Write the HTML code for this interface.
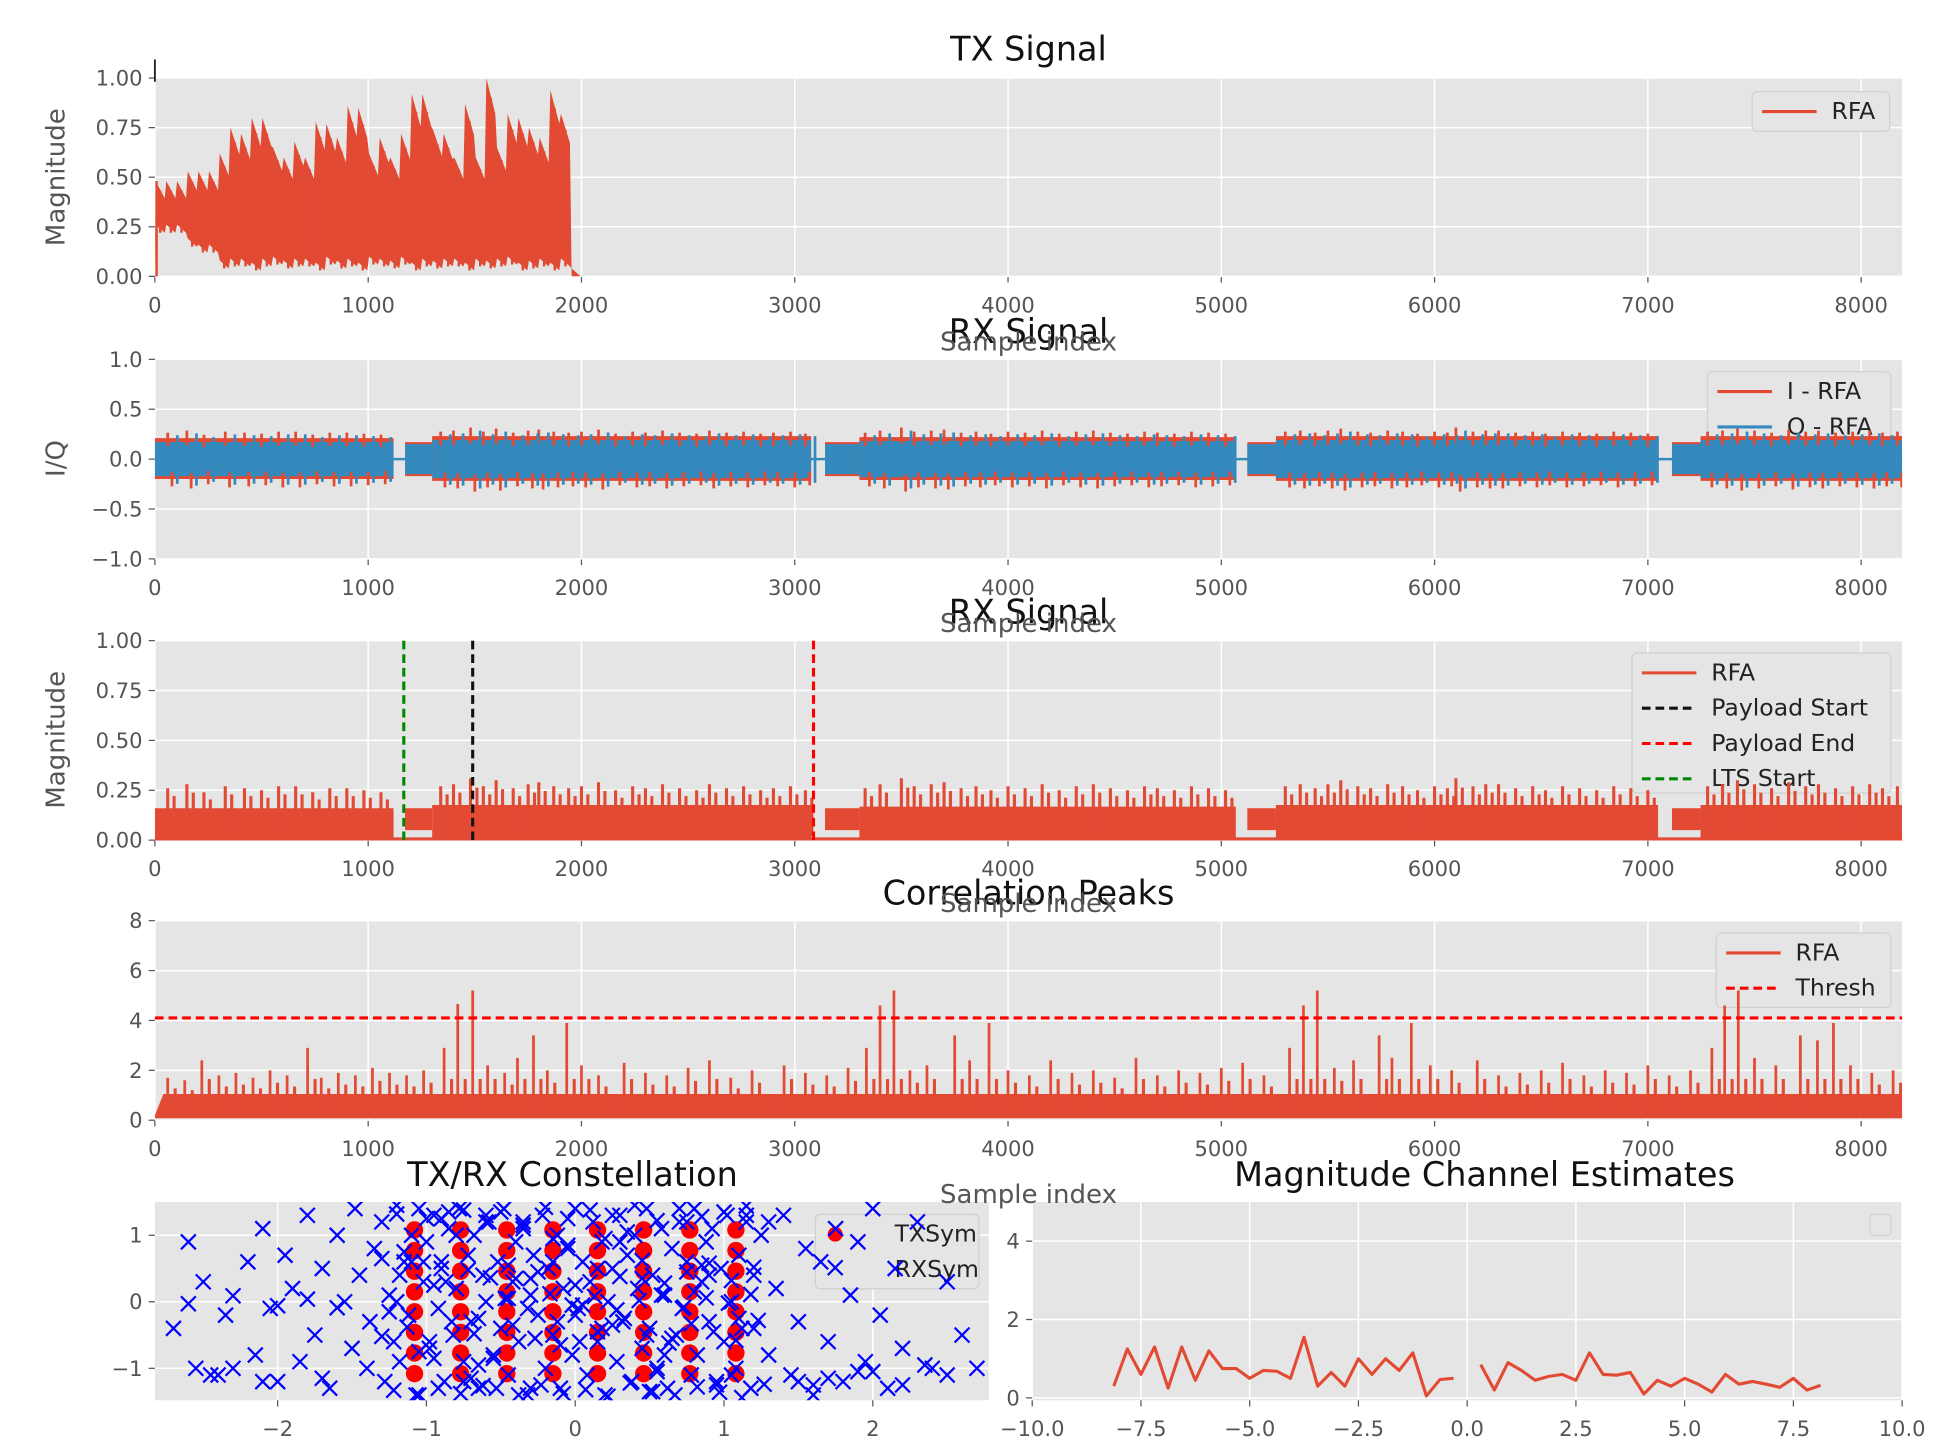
<!DOCTYPE html>
<html><head><meta charset="utf-8"><style>
html,body{margin:0;padding:0;background:#fff}
svg{display:block;font-family:"DejaVu Sans","Liberation Sans",sans-serif}
</style></head><body>
<svg id="fig" width="1943" height="1444" viewBox="0 0 1568 1165.3" preserveAspectRatio="none" xmlns="http://www.w3.org/2000/svg"></svg>
<script>
// ---------- data ----------
const txBinMax=[0.48,0.48,0.48,0.53,0.53,0.53,0.62,0.75,0.72,0.80,0.80,0.65,0.60,0.68,0.60,0.78,0.77,0.70,0.86,0.85,0.62,0.70,0.60,0.72,0.92,0.92,0.74,0.72,0.60,0.87,0.60,1.00,0.65,0.82,0.80,0.75,0.70,0.94,0.82,0.0];
const txBinMin=[0.22,0.22,0.22,0.15,0.12,0.12,0.04,0.05,0.05,0.03,0.05,0.06,0.04,0.05,0.05,0.03,0.06,0.04,0.05,0.03,0.06,0.05,0.04,0.06,0.03,0.05,0.04,0.05,0.05,0.03,0.05,0.04,0.05,0.06,0.03,0.04,0.05,0.03,0.05,0.0];
const burstStart=[0,1173,3142,5122,7113];
const burstPreEnd=[0,1300,3303,5256,7247];
const burstEnd=[1119,3077,5068,7048,8192];
const burstAmpI=[0.21,0.23,0.22,0.23,0.23];
const burstAmpQ=[0.17,0.19,0.18,0.19,0.19];
const preAmp=[0,0.15,0.15,0.15,0.15];
const magBurstMax=[0.2,0.22,0.21,0.22,0.22];
const magPreTop=[0,0.16,0.16,0.16,0.16];
const magPreBot=[0,0.05,0.05,0.05,0.05];
const magPeakIdx=[60,150,230,330,420,500,580,660,740,820,900,980,1060,1340,1400,1480,1540,1600,1680,1750,1800,1870,1940,2000,2080,2160,2240,2300,2380,2460,2540,2600,2680,2760,2840,2900,2980,3050,3330,3400,3500,3560,3640,3700,3780,3850,3920,4000,4080,4160,4240,4320,4400,4480,4560,4640,4700,4780,4860,4940,5020,5300,5370,5440,5500,5560,5640,5700,5780,5850,5920,6000,6060,6100,6180,6240,6300,6380,6460,6520,6600,6680,6760,6840,6920,7000,7280,7350,7420,7500,7580,7660,7740,7800,7880,7960,8040,8100,8170];
const magPeakVal=[0.26,0.28,0.24,0.27,0.26,0.25,0.27,0.27,0.24,0.26,0.26,0.25,0.24,0.27,0.28,0.31,0.27,0.30,0.26,0.28,0.29,0.27,0.26,0.27,0.29,0.25,0.27,0.26,0.28,0.26,0.25,0.28,0.26,0.27,0.25,0.26,0.27,0.25,0.26,0.28,0.31,0.27,0.28,0.29,0.26,0.27,0.25,0.27,0.26,0.28,0.25,0.27,0.28,0.26,0.25,0.27,0.26,0.25,0.27,0.26,0.25,0.27,0.28,0.26,0.28,0.30,0.27,0.26,0.28,0.27,0.25,0.27,0.26,0.31,0.27,0.28,0.28,0.26,0.27,0.25,0.27,0.26,0.25,0.27,0.26,0.25,0.27,0.28,0.30,0.28,0.26,0.29,0.27,0.28,0.26,0.27,0.28,0.26,0.27];
const markerLTS=1167, markerPayStart=1490, markerPayEnd=3088;
const corrBaseMax=1.05;
const corrPeakIdx=[60,140,220,300,380,460,540,620,716,780,860,940,1020,1100,1180,1260,1356,1420,1490,1560,1640,1700,1775,1840,1931,2000,2080,2200,2300,2400,2500,2600,2700,2800,2950,3050,3150,3250,3336,3400,3465,3540,3620,3750,3820,3911,4000,4100,4200,4300,4400,4500,4600,4700,4800,4900,5000,5100,5200,5320,5385,5450,5530,5620,5740,5800,5891,5980,6080,6200,6300,6400,6500,6600,6700,6800,6900,7000,7100,7200,7300,7360,7424,7500,7600,7715,7795,7870,7950,8050,8150];
const corrPeakVal=[1.7,1.6,2.4,1.8,1.9,1.7,2.0,1.8,2.9,1.7,1.9,1.8,2.1,1.9,1.8,2.0,2.9,4.66,5.2,2.2,1.9,2.5,3.4,2.0,3.9,2.2,1.8,2.3,1.9,1.8,2.1,2.4,1.7,2.0,2.2,1.9,1.8,2.1,2.9,4.6,5.2,2.0,2.2,3.4,2.4,3.9,2.0,1.8,2.4,1.9,2.0,1.7,2.5,1.8,2.0,1.9,2.1,2.3,1.8,2.9,4.6,5.2,2.1,2.4,3.4,2.5,3.9,2.2,2.0,2.4,1.8,1.9,2.0,2.3,1.8,2.0,1.9,2.2,1.8,2.0,2.9,4.6,5.2,2.5,2.2,3.4,3.2,3.9,2.2,1.9,2.0];
const corrThresh=4.1;
const qamLevels=[-1.08,-0.77,-0.46,-0.15,0.15,0.46,0.77,1.08];
const rxSymX=[-2.7,-2.6,-2.55,-2.5,-2.45,-2.35,-2.3,-2.2,-2.15,-2.1,-2.05,-2.0,-1.95,-1.9,-1.85,-1.8,-1.75,-1.7,-1.65,-1.6,-1.55,-1.5,-1.48,-1.45,-1.4,-1.38,-1.35,-1.3,-1.28,-1.25,-1.22,-1.2,-1.18,-1.15,-1.12,-1.1,-1.05,-1.02,-1.0,-0.98,-0.95,-0.92,-0.9,-0.88,-0.85,-0.82,-0.8,-0.78,-0.75,-0.72,-0.7,-0.68,-0.65,-0.62,-0.6,-0.58,-0.55,-0.52,-0.5,-0.48,-0.45,-0.42,-0.4,-0.38,-0.35,-0.32,-0.3,-0.28,-0.25,-0.22,-0.2,-0.18,-0.15,-0.12,-0.1,-0.08,-0.05,-0.02,0.0,0.02,0.05,0.08,0.1,0.12,0.15,0.18,0.2,0.22,0.25,0.28,0.3,0.32,0.35,0.38,0.4,0.42,0.45,0.48,0.5,0.52,0.55,0.58,0.6,0.62,0.65,0.68,0.7,0.72,0.75,0.78,0.8,0.82,0.85,0.88,0.9,0.92,0.95,0.98,1.0,1.02,1.05,1.08,1.1,1.12,1.15,1.18,1.2,1.25,1.3,1.35,1.4,1.45,1.5,1.55,1.6,1.65,1.7,1.75,1.8,1.85,1.9,1.95,2.0,2.05,2.1,2.15,2.2,2.3,2.4,2.5,2.6,2.7,-1.2,-0.9,-0.6,-0.3,0.0,0.3,0.6,0.9,1.2,-1.0,-0.7,-0.4,-0.1,0.2,0.5,0.8,1.1,-1.15,-0.85,-0.55,-0.25,0.05,0.35,0.65,0.95,-1.3,-0.95,-0.65,-0.35,-0.05,0.25,0.55,0.85,1.15,-1.05,-0.75,-0.45,-0.15,0.15,0.45,0.75,1.05,
-1.25,-1.1,-0.95,-0.8,-0.65,-0.5,-0.35,-0.2,-0.05,0.1,0.25,0.4,0.55,0.7,0.85,1.0,1.15,1.3,-1.2,-1.05,-0.9,-0.75,-0.6,-0.45,-0.3,-0.15,0.0,0.15,0.3,0.45,0.6,0.75,0.9,1.05,1.2,-1.18,-1.02,-0.87,-0.72,-0.57,-0.42,-0.27,-0.12,0.03,0.18,0.33,0.48,0.63,0.78,0.93,1.08,1.23,-1.3,-1.13,-0.98,-0.83,-0.68,-0.53,-0.38,-0.23,-0.08,0.07,0.22,0.37,0.52,0.67,0.82,0.97,1.12,1.27,-1.22,-1.07,-0.92,-0.77,-0.62,-0.47,-0.32,-0.17,-0.02,0.13,0.28,0.43,0.58,0.73,0.88,1.03,1.18,-1.6,-1.8,-2.0,-2.3,-2.6,1.5,1.7,1.9,2.2,2.5,-1.7,-2.1,-2.4,1.6,2.0,2.35];
const rxSymY=[-0.4,0.9,-1.0,0.3,-1.1,-0.2,-1.0,0.6,-0.8,1.1,-0.1,-1.2,0.7,0.2,-0.9,1.3,-0.5,0.5,-1.3,1.0,0.0,-0.7,1.4,0.4,-1.0,-0.3,0.8,1.2,-1.2,0.1,-0.6,1.45,-0.9,0.6,-0.2,1.0,-1.4,0.3,0.9,-0.7,1.3,-0.1,0.5,-1.2,1.1,-0.5,0.2,1.4,-0.9,0.7,-0.3,1.0,-1.3,0.4,0.0,1.2,-0.8,0.6,-0.4,1.4,-1.1,0.3,0.9,-0.6,1.1,-1.4,0.1,0.7,-0.2,1.3,-1.0,0.5,-0.5,1.0,-1.3,0.2,0.8,-0.8,1.4,-0.1,0.6,-1.1,0.3,1.2,-0.6,0.9,-1.4,0.0,0.5,-0.9,1.3,-0.3,0.7,-1.2,1.0,0.2,-0.7,1.4,-0.4,0.4,-1.0,1.1,0.1,-1.3,0.8,-0.5,1.2,-0.1,0.6,-1.1,1.4,-0.8,0.3,0.9,-0.3,1.1,-1.2,0.5,-0.6,1.3,0.0,-1.0,0.7,-0.4,1.2,-1.3,0.4,1.0,-0.8,0.2,1.3,-1.1,-0.3,0.8,-1.4,0.6,-0.6,1.1,-1.2,0.1,0.9,-0.9,1.4,-0.2,-1.3,0.5,-0.7,1.2,-1.0,0.3,-0.5,-1.0,0.0,0.6,1.2,-1.3,-0.2,0.9,-0.8,0.4,-0.4,1.25,-1.15,0.35,-0.65,0.95,-1.35,0.15,-0.25,0.75,1.35,-0.85,0.45,-0.05,1.05,-0.55,-1.25,0.65,0.25,-0.95,1.15,0.85,-0.35,-1.05,0.55,1.3,-0.75,-1.2,0.05,0.95,-0.45,0.35,1.2,-1.1,-0.15,0.6,-0.85,1.0,-0.25,
1.35,1.2,1.42,1.25,1.38,1.3,1.45,1.22,1.4,1.28,1.35,1.44,1.2,1.32,1.4,1.25,1.38,1.3,0.55,0.35,0.6,0.25,0.5,0.38,0.62,0.28,0.45,0.58,0.32,0.52,0.4,0.6,0.3,0.48,0.36,-0.35,-0.55,-0.3,-0.6,-0.4,-0.25,-0.5,-0.62,-0.33,-0.45,-0.58,-0.28,-0.52,-0.38,-0.6,-0.3,-0.48,-1.3,-1.4,-1.25,-1.38,-1.32,-1.42,-1.22,-1.35,-1.4,-1.28,-1.36,-1.44,-1.24,-1.33,-1.4,-1.3,-1.38,-1.26,0.05,-0.1,0.12,-0.05,0.08,-0.12,0.02,0.1,-0.08,0.06,-0.02,0.11,-0.09,0.04,-0.06,0.09,-0.03,-1.2,-1.15,-1.05,-1.25,-1.1,-1.15,-1.2,-1.1,-1.25,-1.05,-0.95,-1.0,-1.1,-0.9,-1.2,-1.05];
const chanX=[-8.125,-7.8125,-7.5,-7.1875,-6.875,-6.5625,-6.25,-5.9375,-5.625,-5.3125,-5.0,-4.6875,-4.375,-4.0625,-3.75,-3.4375,-3.125,-2.8125,-2.5,-2.1875,-1.875,-1.5625,-1.25,-0.9375,-0.625,-0.3125,null,0.3125,0.625,0.9375,1.25,1.5625,1.875,2.1875,2.5,2.8125,3.125,3.4375,3.75,4.0625,4.375,4.6875,5.0,5.3125,5.625,5.9375,6.25,6.5625,6.875,7.1875,7.5,7.8125,8.125];
const chanMag=[0.3,1.25,0.6,1.3,0.25,1.3,0.45,1.2,0.75,0.75,0.5,0.7,0.68,0.5,1.55,0.3,0.65,0.3,1.0,0.6,1.0,0.7,1.15,0.05,0.47,0.5,null,0.85,0.2,0.9,0.7,0.45,0.55,0.6,0.45,1.15,0.6,0.58,0.65,0.1,0.45,0.3,0.5,0.35,0.15,0.6,0.35,0.42,0.35,0.27,0.5,0.2,0.32];
const sampleTicks=[0,1000,2000,3000,4000,5000,6000,7000,8000];

// ---------- helpers ----------
const NS="http://www.w3.org/2000/svg";
const fig=document.getElementById('fig');
function el(tag,attrs,parent){const e=document.createElementNS(NS,tag);for(const k in attrs)e.setAttribute(k,attrs[k]);(parent||fig).appendChild(e);return e;}
function txt(s,x,y,size,color,anchor,parent,rot){const t=el('text',{x:x,y:y,'font-size':size,fill:color,'text-anchor':anchor||'middle'},parent);if(rot)t.setAttribute('transform','rotate(-90 '+x+' '+y+')');t.textContent=s;return t;}
const RED='#E24A33',BLUE='#348ABD';
function makeAxes(name,x0,y0,x1,y1,xmin,xmax,ymin,ymax,xt,yt,xfmt,yfmt){
  const g=el('g',{});
  
  
  const sx=v=>x0+(v-xmin)/(xmax-xmin)*(x1-x0);
  const sy=v=>y1-(v-ymin)/(ymax-ymin)*(y1-y0);
  el('rect',{x:x0,y:y0,width:x1-x0,height:y1-y0,fill:'#E5E5E5'},g);
  xt.forEach(v=>{const X=sx(v);el('line',{x1:X,x2:X,y1:y0,y2:y1,stroke:'#fff','stroke-width':1.2},g);el('line',{x1:X,x2:X,y1:y1,y2:y1+5,stroke:'#555','stroke-width':1},g);const t=txt(xfmt(v),X,y1+29,17,'#555','middle',g);});
  yt.forEach(v=>{const Y=sy(v);el('line',{x1:x0,x2:x1,y1:Y,y2:Y,stroke:'#fff','stroke-width':1.2},g);el('line',{x1:x0-5,x2:x0,y1:Y,y2:Y,stroke:'#555','stroke-width':1},g);const t=txt(yfmt(v),x0-10,Y+6,17,'#555','end',g);});
  const clip=el('clipPath',{id:'c'+name},g);el('rect',{x:x0,y:y0,width:x1-x0,height:y1-y0},clip);
  return {g,sx,sy,x0,y0,x1,y1,clip:'url(#c'+name+')'};
}
const fmtInt=v=>String(v).replace('-','\u2212');
const fmt2=v=>(v<0?'\u2212':'')+Math.abs(v).toFixed(2);
const fmt1=v=>(v<0?'\u2212':'')+Math.abs(v).toFixed(1);
function legend(ax,x,y,w,h,items){
  const g=el('g',{},ax.g);
  
  
  el('rect',{x:x,y:y,width:w,height:h,rx:4,fill:'#E5E5E5',stroke:'#d0d0d0','stroke-width':1},g);
  items.forEach((it,i)=>{const Y=y+22+i*28.5;
    const ln=el('line',{x1:x+8,x2:x+52,y1:Y-6,y2:Y-6,stroke:it.c,'stroke-width':2.5},g);
    if(it.d)ln.setAttribute('stroke-dasharray','7,4');
    const t=txt(it.t,x+64,Y,19,'#222','start',g);});
}
function poly(ax,pts,fill,name){const p=el('polygon',{points:pts.map(q=>q.join(',')).join(' '),fill:fill,'clip-path':ax.clip},ax.g);return p;}
function vline(ax,x,ya,yb,color,w,name){const l=el('line',{x1:ax.sx(x),x2:ax.sx(x),y1:ax.sy(ya),y2:ax.sy(yb),stroke:color,'stroke-width':w,'clip-path':ax.clip},ax.g);return l;}

// ---------- panel 1: TX ----------
const a1=makeAxes('tx-signal-axes',125,63,1535,223,0,8192,0,1,sampleTicks,[0,0.25,0.5,0.75,1.0],fmtInt,fmt2);
(function(){const top=[],bot=[];top.push([a1.sx(0),a1.sy(0)]);
 txBinMax.forEach((v,i)=>{top.push([a1.sx(i*50+4),a1.sy(v)]);top.push([a1.sx(i*50+46),a1.sy(v*0.82)]);});
 for(let i=txBinMin.length-1;i>=0;i--){bot.push([a1.sx(i*50+46),a1.sy(txBinMin[i])]);bot.push([a1.sx(i*50+4),a1.sy(txBinMin[i]+0.04)]);}
 poly(a1,top.concat(bot),RED,'tx-signal-band');
 txBinMax.forEach((v,i)=>{if(v>0)vline(a1,i*50+25,txBinMin[i],v*0.9,RED,2,'tx-spike');});
 el('line',{x1:a1.sx(8),x2:a1.sx(8),y1:a1.sy(0),y2:a1.sy(0.48),stroke:RED,'stroke-width':2},a1.g);
})();
legend(a1,1414,74,111,32,[{t:'RFA',c:RED}]);
el('line',{x1:125,x2:125,y1:48,y2:66,stroke:'#222','stroke-width':1.5});

// ---------- panel 2: RX I/Q ----------
const a2=makeAxes('rx-iq-axes',125,290,1535,451,0,8192,-1,1,sampleTicks,[-1,-0.5,0,0.5,1],fmtInt,fmt1);
legend(a2,1378,300,148,55,[{t:'I - RFA',c:RED},{t:'Q - RFA',c:BLUE}]);
const zeroI=el('line',{x1:a2.x0,x2:a2.x1,y1:a2.sy(0),y2:a2.sy(0),stroke:BLUE,'stroke-width':2},a2.g);

burstStart.forEach((s,i)=>{
 const e=burstEnd[i],p=burstPreEnd[i];
 if(p>s){poly(a2,[[a2.sx(s),a2.sy(preAmp[i]+0.02)],[a2.sx(p),a2.sy(preAmp[i]+0.02)],[a2.sx(p),a2.sy(-preAmp[i]-0.02)],[a2.sx(s),a2.sy(-preAmp[i]-0.02)]],RED,'i-preamble');
         poly(a2,[[a2.sx(s),a2.sy(preAmp[i])],[a2.sx(p),a2.sy(preAmp[i])],[a2.sx(p),a2.sy(-preAmp[i])],[a2.sx(s),a2.sy(-preAmp[i])]],BLUE,'q-preamble');}
 const st=Math.max(s,p);
 poly(a2,[[a2.sx(st),a2.sy(burstAmpI[i])],[a2.sx(e),a2.sy(burstAmpI[i])],[a2.sx(e),a2.sy(-burstAmpI[i]*0.95)],[a2.sx(st),a2.sy(-burstAmpI[i]*0.95)]],RED,'i-burst');
 poly(a2,[[a2.sx(st),a2.sy(burstAmpQ[i])],[a2.sx(e),a2.sy(burstAmpQ[i])],[a2.sx(e),a2.sy(-burstAmpQ[i])],[a2.sx(st),a2.sy(-burstAmpQ[i])]],BLUE,'q-burst');
});
magPeakIdx.forEach((x,i)=>{vline(a2,x+20,-magPeakVal[i]*1.05,-magPeakVal[i]*0.5,RED,2.2,'i-spike');vline(a2,x,magPeakVal[i]*0.5,magPeakVal[i]*1.02,RED,2.2,'i-spike');});
magPeakIdx.forEach((x,i)=>{vline(a2,x+45,-magPeakVal[i]*0.95,magPeakVal[i]*0.92,BLUE,2.2,'q-spike');});

// ---------- panel 3: RX magnitude ----------
const a3=makeAxes('rx-magnitude-axes',125,517,1535,678,0,8192,0,1,sampleTicks,[0,0.25,0.5,0.75,1.0],fmtInt,fmt2);
legend(a3,1317,527,209,113,[{t:'RFA',c:RED},{t:'Payload Start',c:'#111',d:1},{t:'Payload End',c:'#f00',d:1},{t:'LTS Start',c:'#080',d:1}]);
const z3=el('line',{x1:a3.x0,x2:a3.x1,y1:a3.sy(0)-1,y2:a3.sy(0)-1,stroke:RED,'stroke-width':2.5},a3.g);

burstStart.forEach((s,i)=>{
 const e=burstEnd[i],p=burstPreEnd[i];
 if(p>s)poly(a3,[[a3.sx(s),a3.sy(magPreTop[i])],[a3.sx(p),a3.sy(magPreTop[i])],[a3.sx(p),a3.sy(magPreBot[i])],[a3.sx(s),a3.sy(magPreBot[i])]],RED,'magnitude-preamble');
 const st=Math.max(s,p);
 poly(a3,[[a3.sx(st),a3.sy(magBurstMax[i]*0.8)],[a3.sx(e),a3.sy(magBurstMax[i]*0.8)],[a3.sx(e),a3.sy(0.01)],[a3.sx(st),a3.sy(0.01)]],RED,'magnitude-burst');
});
magPeakIdx.forEach((x,i)=>{vline(a3,x,0.02,magPeakVal[i],RED,2.5,'magnitude-spike');vline(a3,x+30,0.02,magPeakVal[i]*0.85,RED,2.5,'magnitude-spike');});
[[markerLTS,'#080','lts-start-line'],[markerPayStart,'#111','payload-start-line'],[markerPayEnd,'#f00','payload-end-line']].forEach(m=>{
 const l=vline(a3,m[0],0,1,m[1],2.5,m[2]);l.setAttribute('stroke-dasharray','7,4');});

// ---------- panel 4: correlation ----------
const a4=makeAxes('correlation-axes',125,743,1535,904,0,8192,0,8,sampleTicks,[0,2,4,6,8],fmtInt,fmtInt);
legend(a4,1385,753,141,60,[{t:'RFA',c:RED},{t:'Thresh',c:'#f00',d:1}]);
poly(a4,[[a4.sx(0),a4.sy(0.2)],[a4.sx(40),a4.sy(corrBaseMax)],[a4.sx(8192),a4.sy(corrBaseMax)],[a4.sx(8192),a4.sy(0.08)],[a4.sx(0),a4.sy(0.08)]],RED,'correlation-band');
corrPeakIdx.forEach((x,i)=>{vline(a4,x,0.1,corrPeakVal[i],RED,2.2,'correlation-peak');});
corrPeakIdx.forEach((x,i)=>{vline(a4,x+35,0.1,Math.min(corrPeakVal[i],2.2)*0.75,RED,2.5,'correlation-noise');});
const th=el('line',{x1:a4.x0,x2:a4.x1,y1:a4.sy(corrThresh),y2:a4.sy(corrThresh),stroke:'#f00','stroke-width':2.5,'stroke-dasharray':'7,4'},a4.g);


// ---------- panel 5: constellation ----------
const a5=makeAxes('constellation-axes',125,970,798,1130,-2.825,2.78,-1.48,1.5,[-2,-1,0,1,2],[-1,0,1],fmtInt,fmtInt);
legend(a5,658,980,132,60,[{t:'TXSym',c:'none'},{t:'RXSym',c:'none'}]);
el('circle',{cx:674,cy:996,r:6,fill:'#f00'},a5.g);
qamLevels.forEach(x=>qamLevels.forEach(y=>{const c=el('circle',{cx:a5.sx(x),cy:a5.sy(y),r:7,fill:'#f00','clip-path':a5.clip},a5.g);
 }));
rxSymX.forEach((x,i)=>{const X=a5.sx(x),Y=a5.sy(rxSymY[i]);
 const p=el('path',{d:`M${X-6},${Y-6}L${X+6},${Y+6}M${X-6},${Y+6}L${X+6},${Y-6}`,stroke:'#00f','stroke-width':1.8,'clip-path':a5.clip},a5.g);
 });
el('path',{d:'M668,1017L680,1029M668,1029L680,1017',stroke:'#00f','stroke-width':1.8},a5.g);

// ---------- panel 6: channel ----------
const a6=makeAxes('channel-axes',833,970,1535,1130,-10,10,-0.06,5,[-10,-7.5,-5,-2.5,0,2.5,5,7.5,10],[0,2,4],fmt1,fmtInt);
el('rect',{x:1509,y:980,width:17,height:17,rx:3,fill:'#E5E5E5',stroke:'#d0d0d0'},a6.g);
(function(){let d='',pen=false;chanX.forEach((x,i)=>{if(x===null){pen=false;return;}d+=(pen?'L':'M')+a6.sx(x)+','+a6.sy(chanMag[i]);pen=true;});
 const p=el('path',{d:d,fill:'none',stroke:RED,'stroke-width':2.5,'stroke-linejoin':'round'},a6.g);
 })();

// ---------- titles / labels ----------
[['TX Signal',830,49,'title-tx'],['RX Signal',830,277,'title-rx-iq'],['RX Signal',830,503,'title-rx-mag'],['Correlation Peaks',830,730,'title-correlation'],['TX/RX Constellation',462,957,'title-constellation'],['Magnitude Channel Estimates',1198,957,'title-channel']].forEach(t=>{
 const e=txt(t[0],t[1],t[2],27,'#111','middle');});
[275,502,728,963].forEach(y=>{const e=txt('Sample index',830,y+8,21,'#555','middle');});
[['Magnitude',143],['I/Q',370],['Magnitude',597]].forEach(l=>{const e=txt(l[0],52,l[1],21,'#555','middle',null,true);});
</script>
</body></html>
